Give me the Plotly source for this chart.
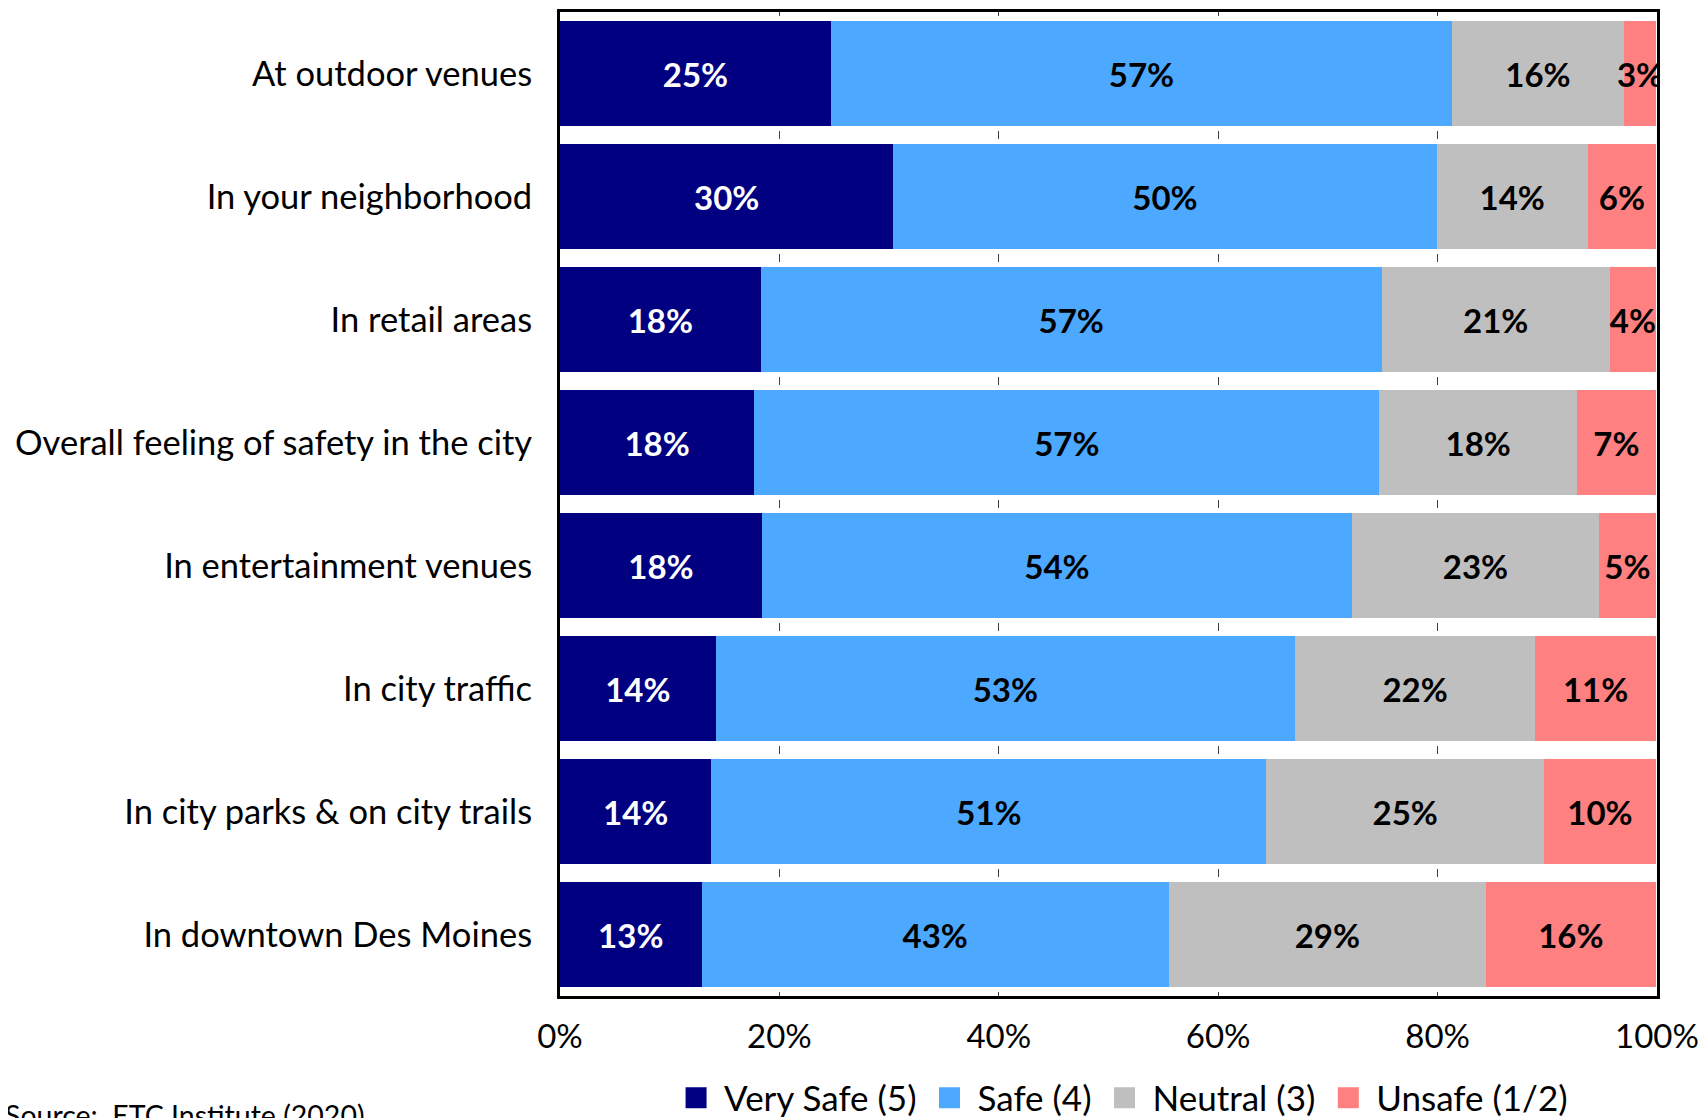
import plotly.graph_objects as go

categories = [
    "At outdoor venues",
    "In your neighborhood",
    "In retail areas",
    "Overall feeling of safety in the city",
    "In entertainment venues",
    "In city traffic",
    "In city parks & on city trails",
    "In downtown Des Moines",
]
series_names = ["Very Safe (5)", "Safe (4)", "Neutral (3)", "Unsafe (1/2)"]
very_safe = [24.7, 30.4, 18.3, 17.7, 18.4, 14.2, 13.8, 12.9]
safe = [56.6, 49.5, 56.6, 57.0, 53.8, 52.8, 50.6, 42.6]
neutral = [15.7, 13.8, 20.8, 18.0, 22.5, 21.9, 25.3, 28.9]
unsafe = [2.9, 6.2, 4.2, 7.2, 5.2, 11.0, 10.2, 15.5]
tick_vals = [0, 20, 40, 60, 80, 100]
tick_text = ["0%", "20%", "40%", "60%", "80%", "100%"]

colors = ["#000080", "#4DA9FF", "#BFBFBF", "#FF8080"]
text_colors = ["white", "black", "black", "black"]
FONT = "Lato"

fig = go.Figure()
for name, vals, col, tcol in zip(series_names, [very_safe, safe, neutral, unsafe], colors, text_colors):
    fig.add_trace(go.Bar(
        y=categories, x=vals, name=name, orientation="h",
        marker=dict(color=col, line=dict(width=0)),
        texttemplate="%{x:.0f}%", textposition="inside", insidetextanchor="middle",
        textangle=0, constraintext="none",
        textfont=dict(family=FONT, size=33, color=tcol, weight="bold"),
        showlegend=False, cliponaxis=True,
    ))
    # legend swatch entries
    fig.add_trace(go.Scatter(
        x=[None], y=[None], mode="markers", name=name,
        marker=dict(symbol="square", size=16, color=col, line=dict(color=col, width=5)),
        showlegend=True,
    ))

fig.update_layout(
    barmode="stack",
    bargap=0.146,
    width=1700, height=1110,
    margin=dict(l=552, r=51, t=1, b=122),
    plot_bgcolor="white", paper_bgcolor="white",
    font=dict(family=FONT, color="black"),
    legend=dict(
        orientation="h", xref="paper", x=0.511, xanchor="center",
        yref="container", y=0.018, yanchor="middle",
        font=dict(family=FONT, size=35, color="black"),
        itemsizing="trace", itemwidth=46, traceorder="normal",
        bgcolor="rgba(0,0,0,0)",
    ),
    annotations=[dict(
        text="Source:  ETC Institute (2020)", xref="paper", yref="paper",
        x=-0.5075, y=-0.1016, xanchor="left", yanchor="top", showarrow=False,
        font=dict(family=FONT, size=28.5, color="black"),
    )],
)
fig.update_xaxes(
    range=[0, 100], tickvals=tick_vals, ticktext=tick_text,
    tickfont=dict(family=FONT, size=33, color="black"),
    showline=True, linecolor="black", linewidth=3, mirror=True,
    showgrid=True, gridcolor="#404040", gridwidth=1,
    griddash="4px,115px,8px,115px,8px,115px,8px,115px,8px,115px,8px,115px,8px,115px,8px,115px,4px",
    ticks="", ticklabelstandoff=9, zeroline=False, fixedrange=True,
)
fig.update_yaxes(
    categoryorder="array", categoryarray=categories, autorange="reversed",
    tickfont=dict(family=FONT, size=34.5, color="black"),
    showline=True, linecolor="black", linewidth=3, mirror=True,
    showgrid=False, ticks="", ticklabelstandoff=18, fixedrange=True,
)

fig.write_html("out.html")
